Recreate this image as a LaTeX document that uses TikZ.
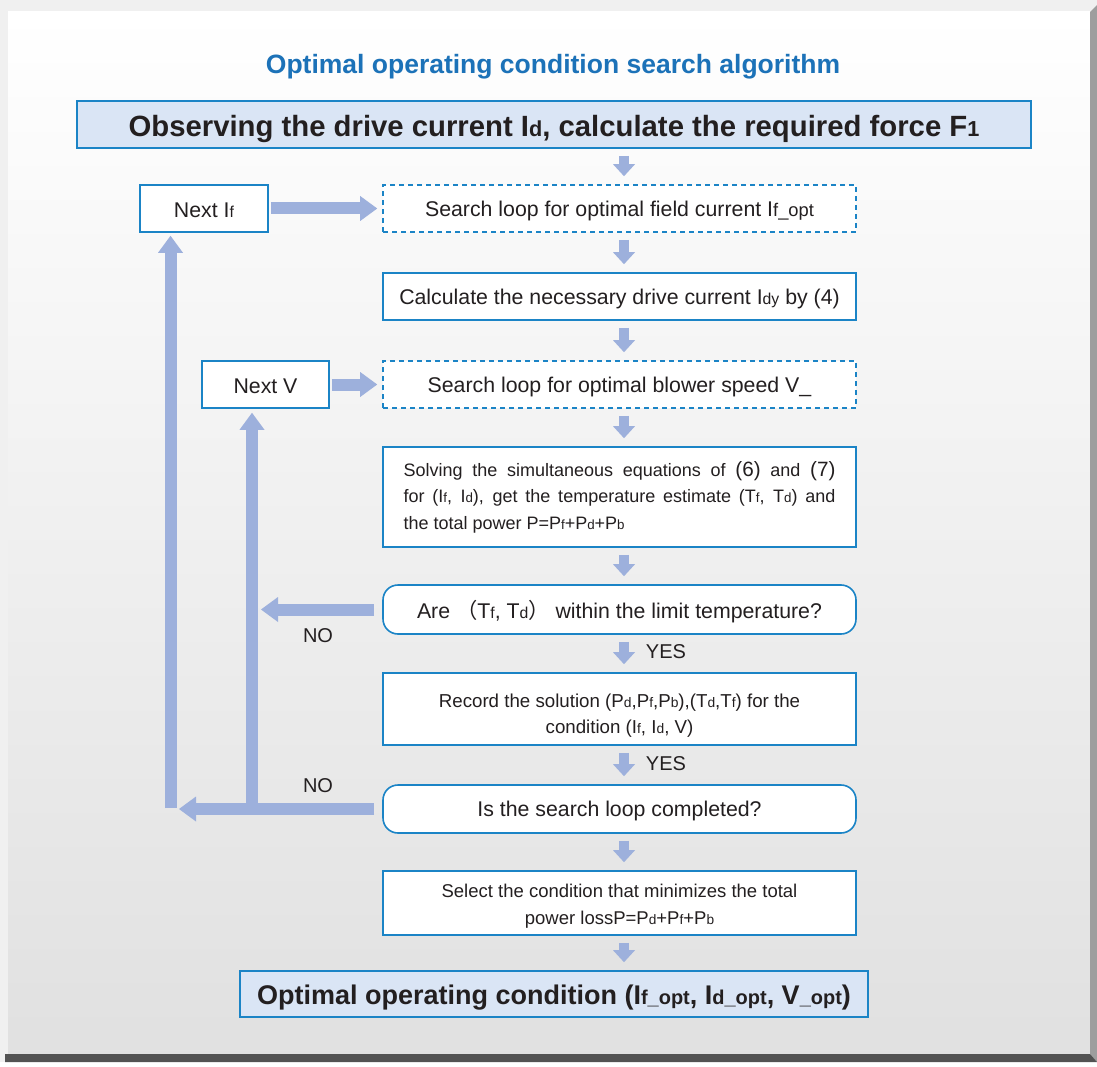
\documentclass[tikz,border=0pt]{standalone}
\usepackage{fontspec}
\setmainfont{Liberation Sans}
\newfontfamily\cjk{Noto Sans CJK SC}
\usetikzlibrary{arrows.meta}
\definecolor{bblue}{HTML}{1B84C6}
\definecolor{tblue}{HTML}{1C72B8}
\definecolor{lfill}{HTML}{DAE5F5}
\definecolor{afill}{HTML}{9DB0DC}
\definecolor{txt}{HTML}{231F20}
\makeatletter
\newcommand\sm[1]{{\fontsize{\strip@pt\dimexpr0.74\dimexpr\f@size pt\relax\relax}{\f@baselineskip}\selectfont#1}}
\newcommand\smb[1]{{\fontsize{\strip@pt\dimexpr0.86\dimexpr\f@size pt\relax\relax}{\f@baselineskip}\selectfont#1}}
\newcommand\bg[1]{{\fontsize{\strip@pt\dimexpr1.15\dimexpr\f@size pt\relax\relax}{\f@baselineskip}\selectfont#1}}
\makeatother
\newcommand\lw[2]{\raisebox{-#1}[\height][\depth]{#2}}
\begin{document}
\begin{tikzpicture}[x=1pt,y=-1pt,
  box/.style={draw=bblue, line width=1.6pt, fill=white, minimum width=473pt, minimum height=47pt,
    inner sep=0pt, text=txt, font=\fontsize{21.3}{25}\selectfont, align=center},
  dbox/.style={box, dash pattern=on 5pt off 4pt},
  rbox/.style={box, rounded corners=15pt},
  hbox/.style={box, fill=lfill},
  lbl/.style={text=txt, font=\fontsize{20}{24}\selectfont, inner sep=0pt},
  big/.style={draw=afill, line width=12pt, -{Triangle[width=25pt,length=17pt,line width=0pt]}},
  small/.style={draw=afill, line width=10pt, -{Triangle[width=22pt,length=12pt,line width=0pt]},
    shorten <=7pt, shorten >=8pt}]
% background frame
\useasboundingbox (0,0) rectangle (1097,1067);
\fill[black!6] (0,0) rectangle (1097,1067);
\fill[white] (0,1062) rectangle (1097,1067);
\shade[top color=white, bottom color=black!12] (8,12) rectangle (1090,1054);
\fill[black!38] (1090,12) -- (1097,5) -- (1097,1062) -- (1090,1054) -- cycle;
\fill[black!68] (5,1054) -- (1090,1054) -- (1097,1062) -- (5,1062) -- cycle;

\node[text=tblue, font=\bfseries\fontsize{26.5}{30}\selectfont, inner sep=0pt] (title) at (553,67)
  {Optimal operating condition search algorithm};

\node[hbox, minimum width=954pt, font=\bfseries\fontsize{29.3}{34}\selectfont] (top) at (554,124.5)
  {\lw{4pt}{Observing the drive current I\sm{d}, calculate the required force F\sm{1}}};
\node[box, minimum width=128pt] (nif) at (204,208.5) {\lw{2pt}{Next I\sm{f}}};
\node[dbox] (s1) at (619.5,208.5) {\lw{2pt}{Search loop for optimal field current I\smb{f\_opt}}};
\node[box] (calc) at (619.5,296.5) {\lw{2pt}{Calculate the necessary drive current I\sm{dy} by (4)}};
\node[box, minimum width=127pt] (nv) at (265.5,384.5) {\lw{2pt}{Next V}};
\node[dbox] (s2) at (619.5,384.5) {\lw{2pt}{Search loop for optimal blower speed V\_}};
\node[box, minimum height=100pt, text width=432pt, inner xsep=20.5pt, align=justify,
  font=\fontsize{18}{26.5}\selectfont] (solve) at (619.5,497)
  {Solving the simultaneous equations of \bg{(6)} and \bg{(7)}\linebreak for (I\sm{f}, I\sm{d}), get the temperature estimate (T\sm{f}, T\sm{d}) and\linebreak the total power P=P\sm{f}+P\sm{d}+P\sm{b}};
\node[rbox, minimum height=49pt] (are) at (619.5,609.5)
  {\lw{2pt}{Are {\cjk （}T\sm{f}, T\sm{d}{\cjk ）} within the limit temperature?}};
\node[box, minimum height=72pt, font=\fontsize{18.7}{26}\selectfont] (rec) at (619.5,709)
  {\rule{0pt}{26pt}Record the solution (P\sm{d},P\sm{f},P\sm{b}),(T\sm{d},T\sm{f}) for the\\condition (I\sm{f}, I\sm{d}, V)};
\node[rbox, minimum height=48pt] (is) at (619.5,809) {\lw{2pt}{Is the search loop completed?}};
\node[box, minimum height=64pt, font=\fontsize{18.5}{27}\selectfont] (sel) at (619.5,903)
  {\rule{0pt}{20pt}Select the condition that minimizes the total\\power lossP=P\sm{d}+P\sm{f}+P\sm{b}};
\node[hbox, minimum width=628pt, minimum height=46pt, font=\bfseries\fontsize{27}{31}\selectfont] (fin) at (554,994)
  {\lw{4pt}{Optimal operating condition (I\sm{f\_opt}, I\sm{d\_opt}, V\sm{\_opt})}};

\node[lbl] (no1) at (318,636) {NO};
\node[lbl] (no2) at (318,786) {NO};
\node[lbl] (yes1) at (666,652) {YES};
\node[lbl] (yes2) at (666,764) {YES};

% small down arrows
\coordinate (ax) at (624,0);
\foreach \a/\b in {top/s1, s1/calc, calc/s2, s2/solve, solve/are, are/rec, rec/is, is/sel, sel/fin}
  \draw[small] (\a.south -| ax) -- (\b.north -| ax);

% horizontal arrows to the search loops
\draw[big, shorten <=2pt, shorten >=5pt] (nif.east) -- (s1.west);
\draw[big, shorten <=2pt, shorten >=5pt] (nv.east) -- (s2.west);

% NO arrows
\coordinate (t1) at (261,609.5);
\draw[big, shorten <=8pt] (are.west) -- (t1);
\coordinate (t2) at (179,809);
\draw[big, shorten <=8pt] (is.west) -- (t2);
\coordinate (v1) at (170.5,808);
\coordinate (v2) at (252,809);
\draw[big, shorten >=3pt] (v1) -- (nif.south -| v1);
\draw[big, shorten >=4pt] (v2) -- (nv.south -| v2);
\end{tikzpicture}
\end{document}
